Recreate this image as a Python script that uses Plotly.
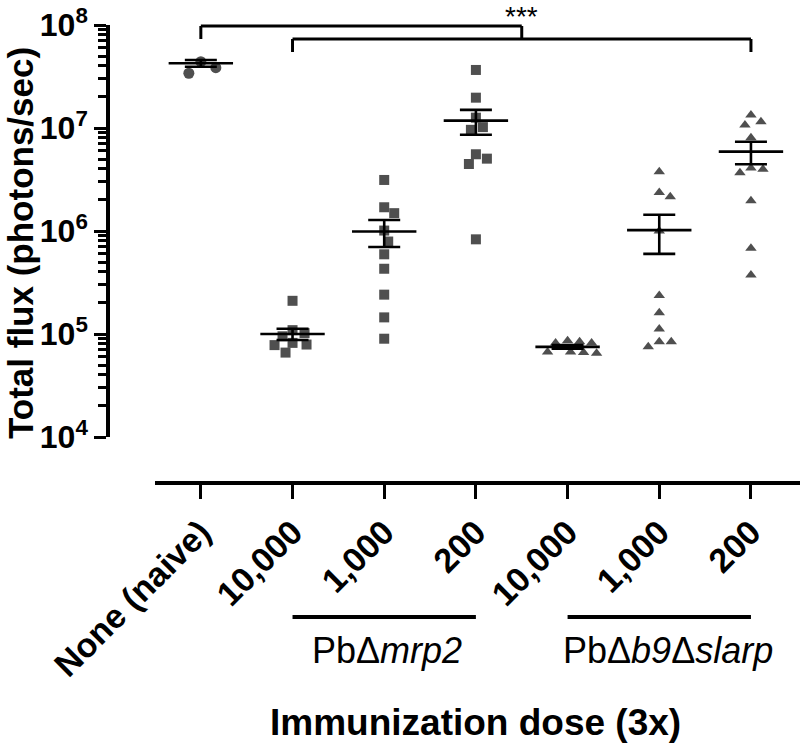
import numpy as np
import plotly.graph_objects as go

# ---------------- data ----------------
categories = ["None (naive)", "10,000", "1,000", "200", "10,000", "1,000", "200"]
naive = [4.4e7, 3.4e7, 3.85e7]
mrp2_10000 = [2.1e5, 1.09e5, 1.02e5, 9.5e4, 8.2e4, 7.9e4, 7.8e4, 6.6e4]
mrp2_1000 = [3.13e6, 1.70e6, 1.49e6, 1.01e6, 7.9e5, 5.94e5, 4.3e5, 2.41e5, 1.45e5, 9.0e4]
mrp2_200 = [3.66e7, 1.97e7, 1.26e7, 1.02e7, 9.6e6, 5.56e6, 5.04e6, 4.47e6, 8.3e5]
slarp_10000 = [8.2e4, 8.2e4, 8.6e4, 8.4e4, 6.7e4, 6.5e4, 6.6e4, 6.7e4]
slarp_1000 = [3.77e6, 2.36e6, 2.15e6, 1.0e6, 2.36e5, 1.61e5, 1.12e5, 8.4e4, 7.5e4, 8.4e4]
slarp_200 = [1.34e7, 1.15e7, 1.07e7, 8.05e6, 4.09e6, 3.97e6, 3.68e6, 1.97e6, 6.8e5, 3.74e5]
group_means = [4.25e7, 1.0e5, 9.9e5, 1.18e7, 7.5e4, 1.02e6, 5.9e6]
group_sems = [3.2e6, 1.25e4, 2.9e5, 3.2e6, 3.0e3, 4.2e5, 1.45e6]
y_tickvals = [1e4, 1e5, 1e6, 1e7, 1e8]
y_ticktext = ["10<sup>4</sup>", "10<sup>5</sup>", "10<sup>6</sup>", "10<sup>7</sup>", "10<sup>8</sup>"]
strain_labels = ["PbΔ<i>mrp2</i>", "PbΔ<i>b9</i>Δ<i>slarp</i>"]
significance = "***"
x_title = "Immunization dose (3x)"
y_title = "Total flux (photons/sec)"

groups = [naive, mrp2_10000, mrp2_1000, mrp2_200, slarp_10000, slarp_1000, slarp_200]
symbols = ["circle", "square", "square", "square", "triangle-up", "triangle-up", "triangle-up"]
sizes = [11, 10, 10, 10, 10, 10, 10]

# ---------------- geometry ----------------
W, H = 800, 748
ML, MR, MT, MB = 108, 0, 25, 265
PW, PH = W - ML - MR, H - MT - MB
x_dom0 = (155 - 108) / PW
y_dom0 = 46 / PH
x_range = [-0.5, 6.535]
px_per_x = PW * (1 - x_dom0) / (x_range[1] - x_range[0])
px_per_dec = PH * (1 - y_dom0) / 4.0


def py(p):
    """pixel row -> paper y"""
    return (H - MB - p) / PH


def swarm(vals, d=13.0):
    vals = np.asarray(vals, dtype=float)
    order = np.argsort(vals)[::-1]
    placed = []
    offs = np.zeros(len(vals))
    for i in order:
        yp = np.log10(vals[i]) * px_per_dec
        chosen = 0
        for step in range(0, 80):
            cands = [0] if step == 0 else [step, -step]
            found = None
            for c in cands:
                if all((c - ox) ** 2 + (yp - oy) ** 2 >= d * d for ox, oy in placed):
                    found = c
                    break
            if found is not None:
                chosen = found
                break
        placed.append((chosen, yp))
        offs[i] = chosen / px_per_x
    return offs


fig = go.Figure()
point_color = "#4f4f4f"
for gi, vals in enumerate(groups):
    offs = swarm(vals, d=11.5 if symbols[gi] != "circle" else 16.0)
    fig.add_trace(go.Scatter(
        x=gi + offs, y=vals, mode="markers",
        marker=dict(symbol=symbols[gi], size=sizes[gi], color=point_color,
                    line=dict(width=0)),
        showlegend=False, hoverinfo="y"))

xs = list(range(len(categories)))
# mean lines (line-ew spans 1.4 * size)
fig.add_trace(go.Scatter(
    x=xs, y=group_means, mode="markers",
    marker=dict(symbol="line-ew", size=46, color="black",
                line=dict(width=2.6, color="black")),
    showlegend=False, hoverinfo="y"))
# SEM error bars
fig.add_trace(go.Scatter(
    x=xs, y=group_means, mode="markers",
    marker=dict(size=1, color="rgba(0,0,0,0)"),
    error_y=dict(type="data", array=group_sems, visible=True,
                 color="black", thickness=2.6, width=16),
    showlegend=False, hoverinfo="skip"))

font_fam = "Liberation Sans, Arial, Helvetica, sans-serif"
minor_vals = [k * 10 ** d for d in range(4, 8) for k in range(2, 10)]

fig.update_layout(
    width=W, height=H,
    margin=dict(l=ML, r=MR, t=MT, b=MB, pad=0),
    paper_bgcolor="white", plot_bgcolor="white",
    font=dict(family=font_fam, color="black"),
    xaxis=dict(
        domain=[x_dom0, 1], range=x_range, anchor="free", position=0,
        tickmode="array", tickvals=xs, ticktext=categories, tickangle=-45,
        tickfont=dict(size=34, family=font_fam, color="black", weight="bold"),
        showline=True, linecolor="black", linewidth=3.5,
        ticks="outside", ticklen=14, tickwidth=3, tickcolor="black",
        showgrid=False, zeroline=False),
    yaxis=dict(
        domain=[y_dom0, 1], type="log", range=[4, 8], anchor="free", position=0,
        tickmode="array", tickvals=y_tickvals, ticktext=y_ticktext,
        tickfont=dict(size=32, family=font_fam, color="black", weight="bold"),
        showline=True, linecolor="black", linewidth=3.5,
        ticks="outside", ticklen=12, tickwidth=3, tickcolor="black",
        minor=dict(tickvals=minor_vals, ticks="outside", ticklen=8, tickwidth=2.5,
                   tickcolor="black", showgrid=False),
        showgrid=False, zeroline=False),
)

line_st = dict(color="black", width=3)
shapes = []
# significance brackets
shapes.append(dict(type="line", xref="x", yref="paper", x0=0, x1=3.5, y0=py(26), y1=py(26), line=line_st))
shapes.append(dict(type="line", xref="x", yref="paper", x0=0, x1=0, y0=py(26), y1=py(39), line=line_st))
shapes.append(dict(type="line", xref="x", yref="paper", x0=3.5, x1=3.5, y0=py(26), y1=py(39), line=line_st))
shapes.append(dict(type="line", xref="x", yref="paper", x0=1, x1=6, y0=py(39), y1=py(39), line=line_st))
shapes.append(dict(type="line", xref="x", yref="paper", x0=1, x1=1, y0=py(39), y1=py(52), line=line_st))
shapes.append(dict(type="line", xref="x", yref="paper", x0=6, x1=6, y0=py(39), y1=py(52), line=line_st))
# strain group lines
shapes.append(dict(type="line", xref="x", yref="paper", x0=1, x1=3, y0=py(617), y1=py(617),
                   line=dict(color="black", width=4)))
shapes.append(dict(type="line", xref="x", yref="paper", x0=4, x1=6, y0=py(617), y1=py(617),
                   line=dict(color="black", width=4)))
fig.update_layout(shapes=shapes)

ann = []
ann.append(dict(text=significance, xref="x", yref="paper", x=3.5, y=py(16), showarrow=False,
                font=dict(size=28, family=font_fam), xanchor="center", yanchor="middle"))
ann.append(dict(text=strain_labels[0], xref="x", yref="paper", x=2.03, y=py(650), showarrow=False,
                font=dict(size=36, family=font_fam), xanchor="center", yanchor="middle"))
ann.append(dict(text=strain_labels[1], xref="x", yref="paper", x=5.1, y=py(650), showarrow=False,
                font=dict(size=36, family=font_fam), xanchor="center", yanchor="middle"))
ann.append(dict(text="<b>" + x_title + "</b>", xref="x", yref="paper", x=3.0, y=py(722), showarrow=False,
                font=dict(size=37, family=font_fam), xanchor="center", yanchor="middle"))
ann.append(dict(text="<b>" + y_title + "</b>", xref="paper", yref="paper", x=(20 - ML) / PW,
                y=py(243), showarrow=False, textangle=-90,
                font=dict(size=35, family=font_fam), xanchor="center", yanchor="middle"))
fig.update_layout(annotations=ann)

fig.write_html("out.html", config={"displayModeBar": False},
               post_script="document.body.style.margin='0px';")
